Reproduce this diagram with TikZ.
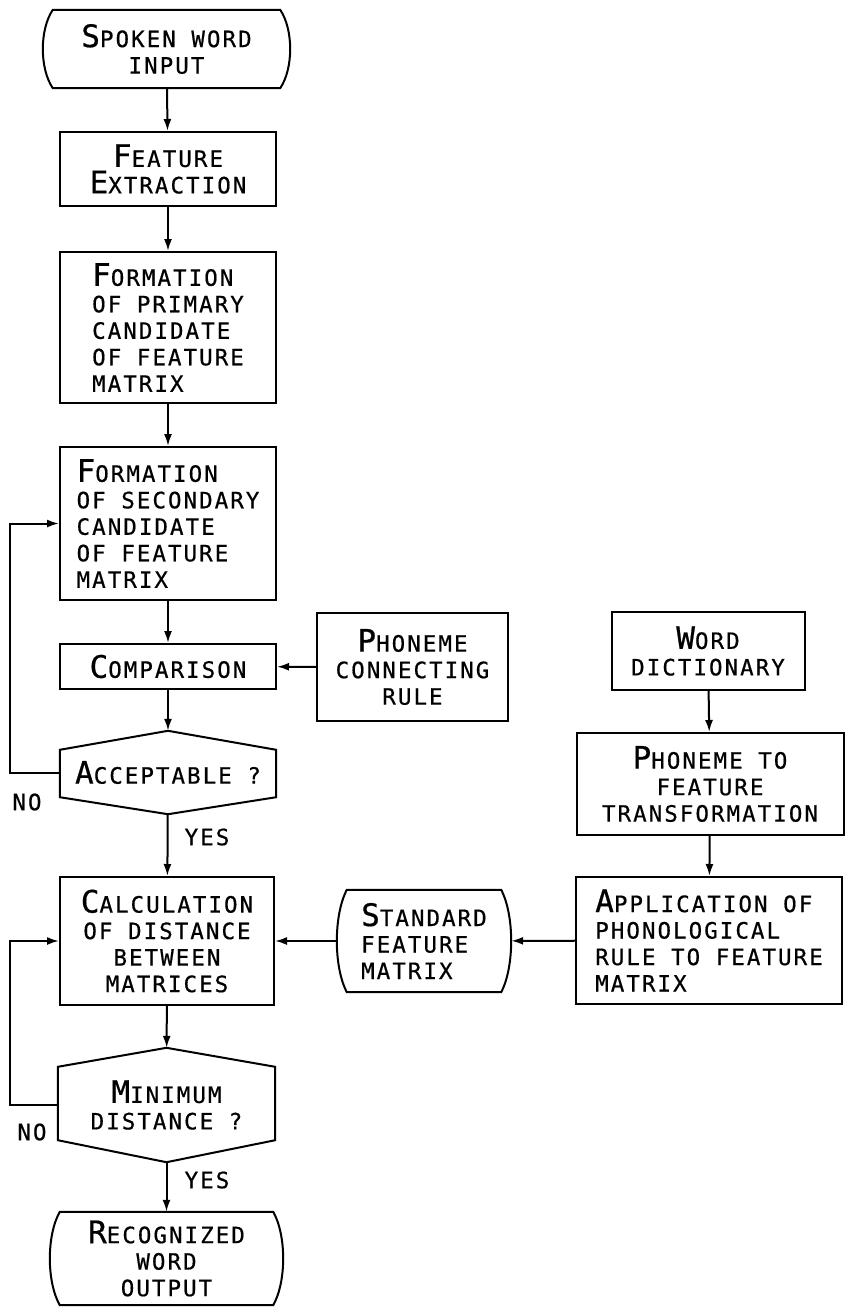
\documentclass[tikz,border=0pt]{standalone}
\usepackage{fontspec}
\setmainfont{DejaVu Sans Mono}[LetterSpace=9,UprightFeatures={FakeBold=0.6}]
\usetikzlibrary{arrows.meta,calc}
\newcommand{\ini}[1]{{\fontsize{31}{26.5}\selectfont #1}}

\begin{document}
\begin{tikzpicture}[x=1pt,y=-1pt,
    every node/.style={font=\fontsize{22.5}{26.5}\selectfont},
    box/.style={draw,line width=2pt,minimum width=216pt,inner sep=0pt,align=center},
    plain/.style={inner sep=0pt,align=center},
    flow/.style={line width=2pt,-{Latex[length=12pt,width=8pt]}},
    outline/.style={line width=2pt}]
    \useasboundingbox (0,0) rectangle (848,1312);

    % main column
    \node[plain,minimum width=247pt,minimum height=78pt] (start) at (166.5,49) {\ini{S}POKEN WORD\\INPUT};
    \node[box,minimum height=74pt] (fe) at (168,169) {\ini{F}EATURE\\\ini{E}XTRACTION};
    \node[box,minimum height=151pt,align=left] (prim) at (168,327.5)
      {\ini{F}ORMATION\\OF PRIMARY\\CANDIDATE\\OF FEATURE\\MATRIX};
    \node[box,minimum height=153pt,align=left] (sec) at (168,523.5)
      {\ini{F}ORMATION\\OF SECONDARY\\CANDIDATE\\OF FEATURE\\MATRIX};
    \node[box,minimum height=45pt] (comp) at (168,666.5) {\ini{C}OMPARISON};
    \node[plain,minimum width=216pt,minimum height=83pt] (acc) at (168,772.5) {\raisebox{-6pt}{\ini{A}CCEPTABLE ?}};
    \node[box,minimum width=214pt,minimum height=128pt] (calc) at (167,941)
      {\ini{C}ALCULATION\\OF DISTANCE\\BETWEEN\\MATRICES};
    \node[plain,minimum width=217pt,minimum height=114pt] (mind) at (166.5,1105) {\ini{M}INIMUM\\DISTANCE ?};
    \node[plain,minimum width=233pt,minimum height=93pt] (stop) at (166.5,1258.5) {\ini{R}ECOGNIZED\\WORD\\OUTPUT};

    % side branch
    \node[box,minimum width=191pt,minimum height=108pt] (pcr) at (412.5,667) {\ini{P}HONEME\\CONNECTING\\RULE};
    \node[box,minimum width=193pt,minimum height=78pt] (wd) at (708,651) {\ini{W}ORD\\DICTIONARY};
    \node[box,minimum width=267pt,minimum height=102pt] (ptf) at (710,784) {\ini{P}HONEME TO\\FEATURE\\TRANSFORMATION};
    \node[box,minimum width=266pt,minimum height=127pt,align=left] (app) at (709,940.5)
      {\ini{A}PPLICATION OF\\PHONOLOGICAL\\RULE TO FEATURE\\MATRIX};
    \node[plain,minimum width=174pt,minimum height=102pt,align=left] (std) at (424,941) {\ini{S}TANDARD\\FEATURE\\MATRIX};

    % labels
    \node (noa) at (27,802) {NO};
    \node (yesa) at (207,837) {YES};
    \node (nob) at (32,1132) {NO};
    \node (yesb) at (207,1180) {YES};

    % outlines of the rounded-side shapes
    \foreach \n in {start,std,stop} {
      \draw[outline] ([xshift=10pt]\n.north west)
        .. controls ([xshift=-3.3pt]$(\n.north west)!0.25!(\n.south west)$)
                and ([xshift=-3.3pt]$(\n.north west)!0.75!(\n.south west)$) .. ([xshift=10pt]\n.south west)
        -- ([xshift=-10pt]\n.south east)
        .. controls ([xshift=3.3pt]$(\n.north east)!0.75!(\n.south east)$)
                and ([xshift=3.3pt]$(\n.north east)!0.25!(\n.south east)$) .. ([xshift=-10pt]\n.north east)
        -- cycle;
    }
    % decisions
    \foreach \n/\a/\b in {acc/19/17,mind/19/22} {
      \draw[outline] (\n.north) -- ([yshift=-\a pt]\n.north east) -- ([yshift=\b pt]\n.south east)
        -- (\n.south) -- ([yshift=\b pt]\n.south west) -- ([yshift=-\a pt]\n.north west) -- cycle;
    }

    % connectors
    \draw[flow] (start) -- (fe);
    \draw[flow] (fe) -- (prim);
    \draw[flow] (prim) -- (sec);
    \draw[flow] (sec) -- (comp);
    \draw[flow] (comp) -- (acc);
    \draw[flow] (acc) -- (calc);
    \draw[flow] (calc) -- (mind);
    \draw[flow] (mind) -- (stop);
    \draw[flow] (pcr) -- (comp);
    \draw[flow] (wd) -- (ptf);
    \draw[flow] (ptf) -- (app);
    \draw[flow] (app) -- (std);
    \draw[flow] (std) -- (calc);
    \draw[flow] (acc.west) -- ++(-50pt,0) |- (sec.west);
    \draw[flow] (mind.west) -- ++(-48pt,0) |- (calc.west);
\end{tikzpicture}
\end{document}
